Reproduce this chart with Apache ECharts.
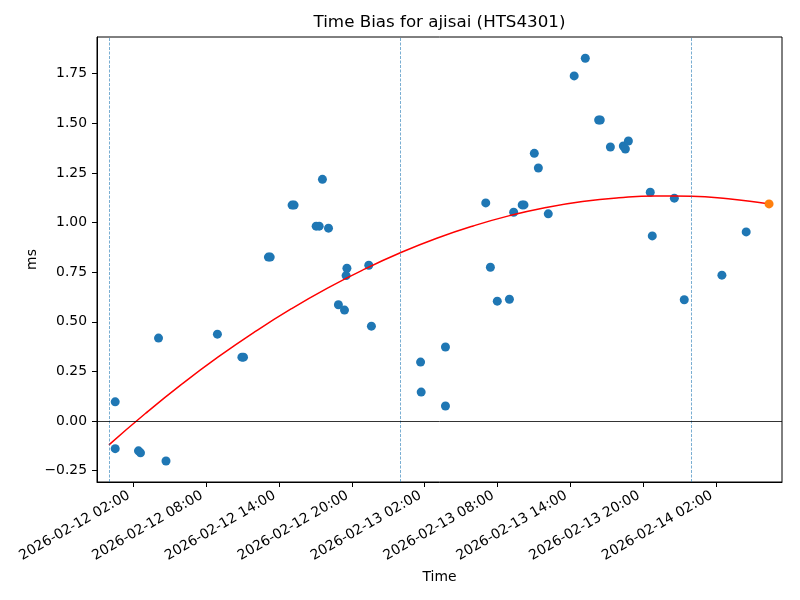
<!DOCTYPE html>
<html>
<head>
<meta charset="utf-8">
<script src="https://cdn.jsdelivr.net/npm/echarts@6/dist/echarts.min.js"></script>
<style>html,body{margin:0;padding:0;background:#fff}#c{width:800px;height:600px}</style>
</head>
<body>
<div id="c"></div>
<script>
// ---- data ----
const obsTimes = ['2026-02-12 00:31','2026-02-12 00:31','2026-02-12 02:26','2026-02-12 02:36','2026-02-12 04:05','2026-02-12 04:42','2026-02-12 08:56','2026-02-12 10:57','2026-02-12 11:05','2026-02-12 13:08','2026-02-12 13:17','2026-02-12 15:05','2026-02-12 15:15','2026-02-12 17:04','2026-02-12 17:19','2026-02-12 17:35','2026-02-12 18:05','2026-02-12 18:54','2026-02-12 19:24','2026-02-12 19:32','2026-02-12 19:36','2026-02-12 21:24','2026-02-12 21:37','2026-02-13 01:40','2026-02-13 01:43','2026-02-13 03:43','2026-02-13 03:43','2026-02-13 07:02','2026-02-13 07:25','2026-02-13 07:59','2026-02-13 08:59','2026-02-13 09:20','2026-02-13 10:02','2026-02-13 10:11','2026-02-13 11:02','2026-02-13 11:22','2026-02-13 12:11','2026-02-13 14:19','2026-02-13 15:14','2026-02-13 16:20','2026-02-13 16:28','2026-02-13 17:18','2026-02-13 18:22','2026-02-13 18:32','2026-02-13 18:47','2026-02-13 20:35','2026-02-13 20:45','2026-02-13 22:34','2026-02-13 23:23','2026-02-14 02:29','2026-02-14 04:29'];
const obsValues = [0.097,-0.139,-0.150,-0.160,0.418,-0.201,0.438,0.322,0.322,0.826,0.826,1.088,1.088,0.982,0.982,1.218,0.972,0.586,0.559,0.733,0.770,0.785,0.478,0.297,0.146,0.373,0.076,1.099,0.775,0.604,0.614,1.052,1.089,1.089,1.349,1.275,1.044,1.739,1.828,1.517,1.517,1.381,1.386,1.371,1.411,1.153,0.933,1.123,0.611,0.735,0.953];
const latestTime = ['2026-02-14 06:22'];
const latestValue = [1.094];
const fitTimes = ['2026-02-12 00:00','2026-02-12 03:00','2026-02-12 06:00','2026-02-12 09:00','2026-02-12 12:00','2026-02-12 15:00','2026-02-12 18:00','2026-02-12 21:00','2026-02-13 00:00','2026-02-13 03:00','2026-02-13 06:00','2026-02-13 09:00','2026-02-13 12:00','2026-02-13 15:00','2026-02-13 18:00','2026-02-13 21:00','2026-02-14 00:00','2026-02-14 03:00','2026-02-14 06:00','2026-02-14 06:22'];
const fitValues = [-0.120,0.038,0.186,0.323,0.449,0.565,0.670,0.764,0.848,0.921,0.983,1.035,1.076,1.106,1.125,1.134,1.133,1.120,1.097,1.094];
const dayLines = ['2026-02-12 00:00','2026-02-13 00:00','2026-02-14 00:00'];
const xTickLabels = ['2026-02-12 02:00','2026-02-12 08:00','2026-02-12 14:00','2026-02-12 20:00','2026-02-13 02:00','2026-02-13 08:00','2026-02-13 14:00','2026-02-13 20:00','2026-02-14 02:00'];
const yTicks = [-0.25,0,0.25,0.5,0.75,1.0,1.25,1.5,1.75];
const xRange = ['2026-02-11 23:01','2026-02-14 07:26'];
const yRange = [-0.307,1.935];

function toMs(s){
  const m = s.match(/(\d+)-(\d+)-(\d+) (\d+):(\d+)/);
  return Date.UTC(+m[1], +m[2]-1, +m[3], +m[4], +m[5]);
}
function pad(n){return (n<10?'0':'')+n;}
function fmt(ms){
  const d = new Date(ms);
  return d.getUTCFullYear()+'-'+pad(d.getUTCMonth()+1)+'-'+pad(d.getUTCDate())+' '+pad(d.getUTCHours())+':'+pad(d.getUTCMinutes());
}
const FONT = 'DejaVu Sans';
const chart = echarts.init(document.getElementById('c'), null, {renderer:'canvas'});
const xTickMs = xTickLabels.map(toMs);

chart.setOption({
  animation:false,
  backgroundColor:'#fff',
  textStyle:{fontFamily:FONT},
  graphic:[{type:'text', x:439.5, y:23, style:{text:'Time Bias for ajisai (HTS4301)', font:'16.7px "DejaVu Sans"', fill:'#000', textAlign:'center', textVerticalAlign:'middle'}}],
  grid:{left:97, right:18, top:37, bottom:118, show:true, borderColor:'#000', borderWidth:1, backgroundColor:'transparent'},
  xAxis:{
    type:'value', min:toMs(xRange[0]), max:toMs(xRange[1]),
    name:'Time', nameLocation:'middle', nameGap:88, nameMoveOverlap:false,
    nameTextStyle:{fontFamily:FONT, fontSize:13.9, color:'#000'},
    axisLine:{show:true, onZero:false, lineStyle:{color:'#000', width:1}},
    axisTick:{show:true, length:5, lineStyle:{color:'#000'}, customValues:xTickMs},
    axisLabel:{show:true, rotate:30, margin:10, padding:[0,5,0,0], fontFamily:FONT, fontSize:13.9, color:'#000', customValues:xTickMs, formatter:v=>fmt(v), hideOverlap:false},
    splitLine:{show:false}
  },
  yAxis:{
    type:'value', min:yRange[0], max:yRange[1],
    name:'ms', nameLocation:'middle', nameGap:58, nameRotate:90, nameMoveOverlap:false,
    nameTextStyle:{fontFamily:FONT, fontSize:13.9, color:'#000'},
    axisLine:{show:true, onZero:false, lineStyle:{color:'#000', width:1}},
    axisTick:{show:true, length:5, lineStyle:{color:'#000'}, customValues:yTicks},
    axisLabel:{show:true, margin:10, fontFamily:FONT, fontSize:13.9, color:'#000', customValues:yTicks, formatter:v=>(v<0?'\u2212':'')+Math.abs(v).toFixed(2)},
    splitLine:{show:false}
  },
  series:[
    {type:'line', data:[], silent:true, z:1,
      markLine:{symbol:'none', silent:true, label:{show:false},
        data:[
          ...dayLines.map(s=>({xAxis:toMs(s), lineStyle:{color:'#1f77b4', width:0.8, type:[3,1.5], opacity:0.75}})),
          {yAxis:0, lineStyle:{color:'#000', width:0.8, type:'solid'}}
        ]}
    },
    {type:'scatter', z:3, symbol:'circle', symbolSize:9, itemStyle:{color:'#1f77b4', opacity:1},
      data: obsTimes.map((t,i)=>[toMs(t), obsValues[i]])},
    {type:'line', z:4, showSymbol:false, smooth:true, lineStyle:{color:'#ff0000', width:1.5},
      data: fitTimes.map((t,i)=>[toMs(t), fitValues[i]])},
    {type:'scatter', z:5, symbol:'circle', symbolSize:9, itemStyle:{color:'#ff7f0e', opacity:1},
      data: latestTime.map((t,i)=>[toMs(t), latestValue[i]])}
  ]
});
</script>
</body>
</html>
